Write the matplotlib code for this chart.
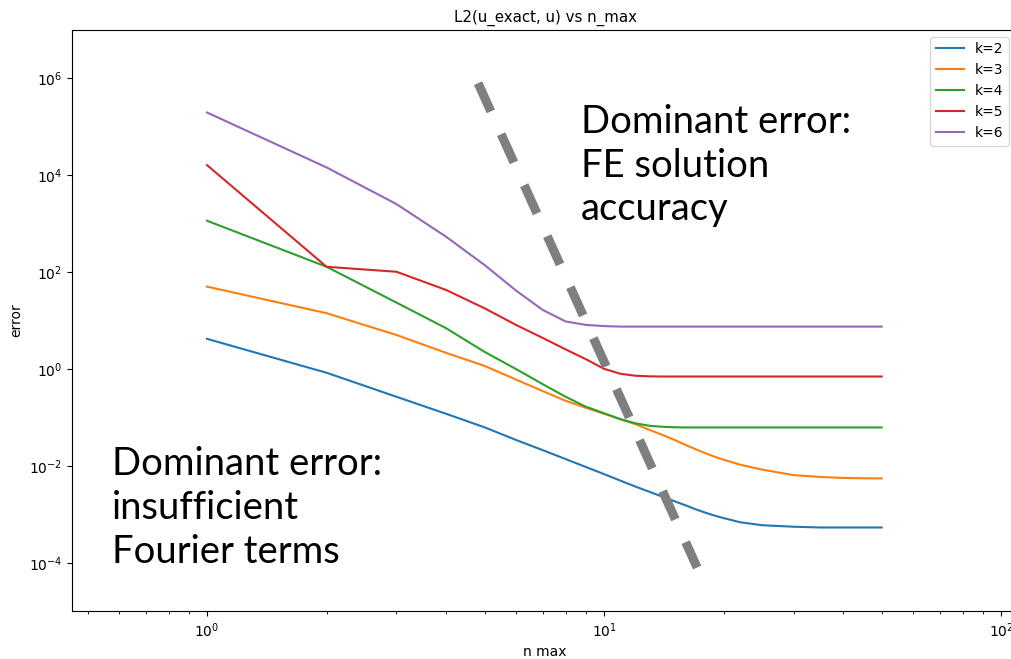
import matplotlib
matplotlib.use("Agg")
import matplotlib.pyplot as plt
from matplotlib.ticker import LogLocator, NullLocator

# number of Fourier terms kept
n_max = [1, 2, 3, 4, 5, 6, 7, 8, 9, 10, 11, 12, 13, 14, 15, 16, 17, 18, 19, 20,
         22, 25, 30, 35, 40, 45, 50]

# L2 error against the exact solution for each polynomial degree k
err_k2 = [4.16, 0.83, 0.265, 0.118, 0.062, 0.034, 0.021, 0.0137, 0.0094, 0.0067,
          0.0049, 0.0037, 0.0029, 0.0023, 0.00186, 0.00153, 0.00126, 0.00107,
          0.00093, 0.00083, 0.00068, 0.00059, 0.00055, 0.00053, 0.00053,
          0.00053, 0.00053]
err_k3 = [49.8, 14.1, 5.0, 2.14, 1.15, 0.60, 0.348, 0.219, 0.157, 0.118,
          0.091, 0.072, 0.055, 0.0435, 0.0344, 0.0271, 0.0219, 0.0181, 0.0153,
          0.0133, 0.0105, 0.0083, 0.0064, 0.00585, 0.0056, 0.0055, 0.00547]
err_k4 = [1142, 128, 23.3, 6.9, 2.24, 0.99, 0.484, 0.265, 0.165, 0.121,
          0.091, 0.075, 0.0668, 0.0637, 0.0622, 0.0616, 0.0616, 0.0616, 0.0616,
          0.0616, 0.0616, 0.0616, 0.0616, 0.0616, 0.0616, 0.0616, 0.0616]
err_k5 = [16070, 128, 101, 42.5, 17.8, 8.07, 4.36, 2.52, 1.58, 1.0,
          0.79, 0.72, 0.70, 0.694, 0.694, 0.694, 0.694, 0.694, 0.694, 0.694,
          0.694, 0.694, 0.694, 0.694, 0.694, 0.694, 0.694]
err_k6 = [196000, 14400, 2520, 534, 139, 41.3, 16.5, 9.5, 8.07, 7.63,
          7.45, 7.45, 7.45, 7.45, 7.45, 7.45, 7.45, 7.45, 7.45, 7.45,
          7.45, 7.45, 7.45, 7.45, 7.45, 7.45, 7.45]

series = [("k=2", err_k2), ("k=3", err_k3), ("k=4", err_k4),
          ("k=5", err_k5), ("k=6", err_k6)]

# boundary between the two error regimes (end points in data units)
divider_x = [4.815, 17.15]
divider_y = [7.9e5, 7.9e-5]

fig = plt.figure(figsize=(10.112, 6.592), dpi=100)
ax = fig.add_axes([0.0712, 0.0728, 0.9575, 0.8817])

for label, err in series:
    ax.plot(n_max, err, label=label, lw=1.5)

ax.set_xscale("log")
ax.set_yscale("log")
ax.set_xlim(0.457, 125.4)
ax.set_ylim(1e-5, 1e7)
ax.set_yticks([1e-4, 1e-2, 1e0, 1e2, 1e4, 1e6])
ax.yaxis.set_minor_locator(NullLocator())
ax.xaxis.set_minor_locator(LogLocator(base=10, subs=range(2, 10)))
ax.spines["right"].set_visible(False)

ax.set_title("L2(u_exact, u) vs n_max", fontsize=10.8, x=0.4886)
ax.set_xlabel("n max", fontsize=10, x=0.4886)
ax.set_ylabel("error", fontsize=10)
ax.legend(loc="upper right", fontsize=10, bbox_to_anchor=(0.9749, 1.0))

lw = 6.5
ax.plot(divider_x, divider_y, color="#7f7f7f", lw=lw, solid_capstyle="butt",
        dash_capstyle="butt", linestyle=(0, (22.3 / lw, 18.0 / lw)),
        clip_on=False, zorder=5)

note_font = dict(family=["Lato", "DejaVu Sans"], weight="normal", fontsize=27.5,
                 color="black", linespacing=1.27)
ax.text(0.5258, 0.873, "Dominant error:\nFE solution\naccuracy",
        transform=ax.transAxes, ha="left", va="top", **note_font)
ax.text(0.0413, 0.2834, "Dominant error:\ninsufficient\nFourier terms",
        transform=ax.transAxes, ha="left", va="top", **note_font)

fig.savefig("out.png", dpi=100)
